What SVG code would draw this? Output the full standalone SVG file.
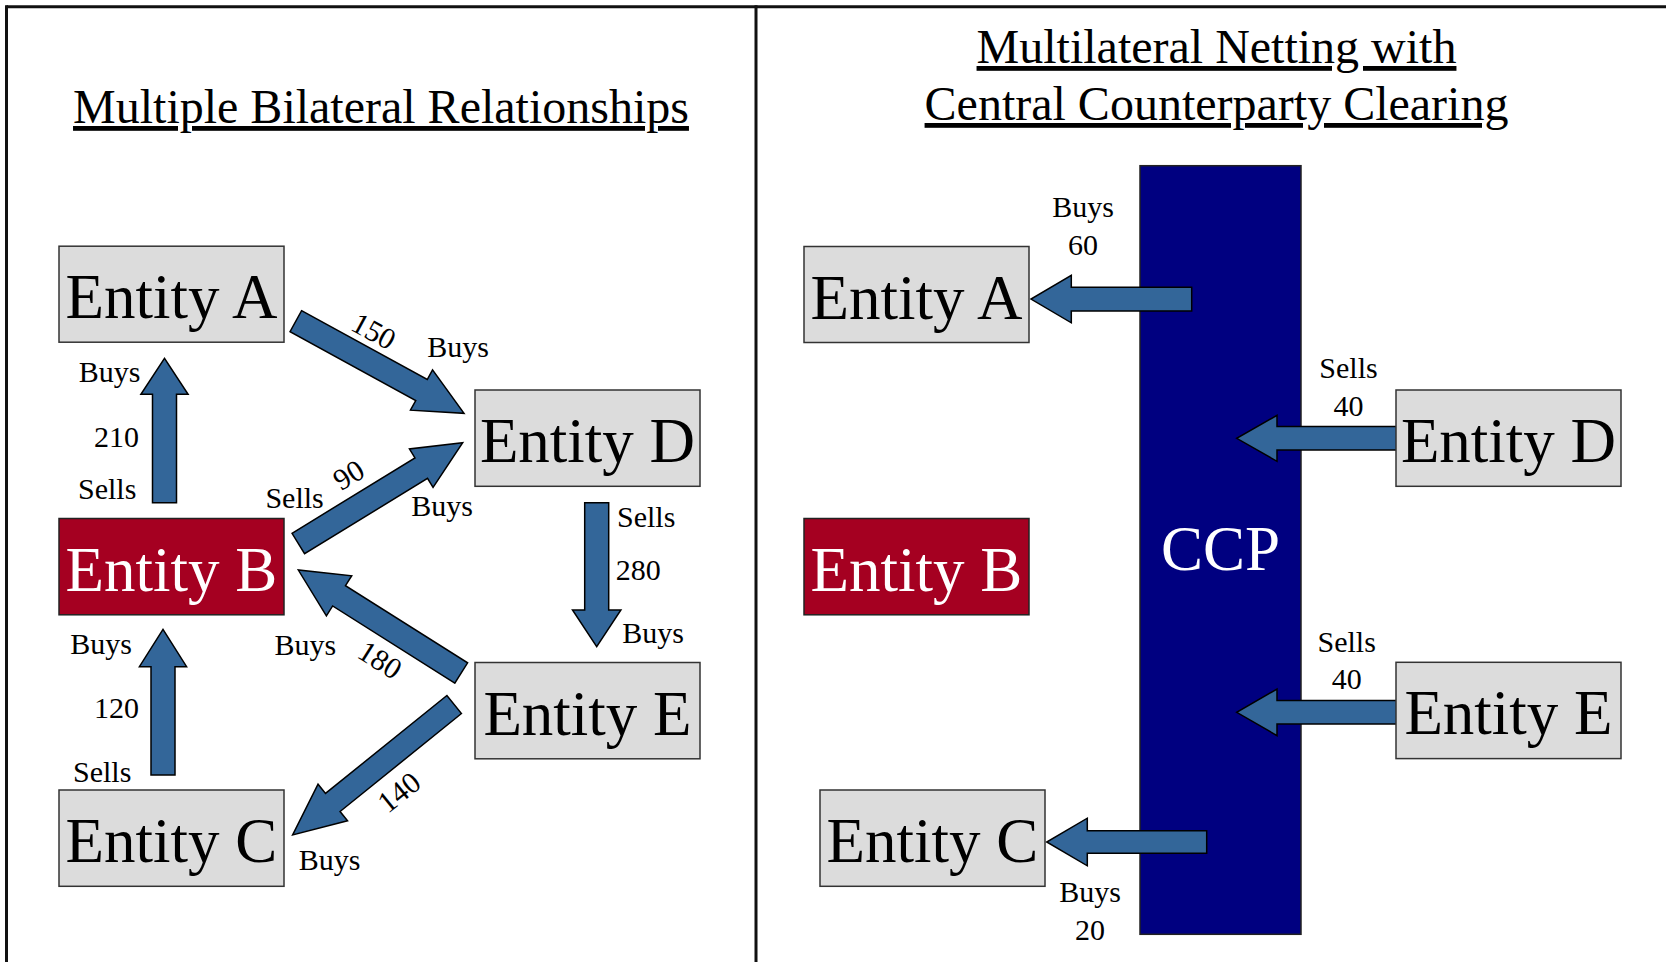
<svg xmlns="http://www.w3.org/2000/svg" width="1666" height="962" viewBox="0 0 1666 962">
<style>
.frame{fill:none;stroke:#111;stroke-width:3}
.box{fill:#dcdcdc;stroke:#333;stroke-width:1.5}
.boxb{fill:#a50021;stroke:#222;stroke-width:1.5}
.ccp{fill:#000080;stroke:#222;stroke-width:1.5}
.arr{fill:#336699;stroke:#000;stroke-width:1.5;stroke-linejoin:miter}
text{font-family:"Liberation Serif","Times New Roman",serif}
.title{font-size:48px;fill:#000;text-anchor:middle;text-decoration:underline}
.ent{font-size:63px;fill:#000;text-anchor:middle}
.entw{font-size:63px;fill:#fff;text-anchor:middle}
.lbl{font-size:30px;fill:#000}
.lblc{font-size:30px;fill:#000;text-anchor:middle}
</style>
<rect width="1666" height="962" fill="#fff"/>
<g id="frame">
<line class="frame" x1="6.5" y1="6.7" x2="1666" y2="6.7"/>
<line class="frame" x1="6.5" y1="5.2" x2="6.5" y2="962"/>
<line class="frame" x1="756" y1="5.2" x2="756" y2="962"/>
</g>
<g id="titles">
<text class="title" x="381" y="123">Multiple Bilateral Relationships</text>
<text class="title" x="1216.5" y="63">Multilateral Netting with</text>
<text class="title" x="1216.5" y="120">Central Counterparty Clearing</text>
</g>
<g id="ccp">
<rect class="ccp" x="1140" y="165.7" width="161" height="768.6"/>
<text class="entw" x="1220.5" y="570">CCP</text>
</g>
<g id="connectors">
<!-- left: B -> A (210) -->
<path class="arr" transform="translate(164.5,502.7) rotate(-90)" d="M0,-12 L108.4,-12 L108.4,-23.6 L144.4,0 L108.4,23.6 L108.4,12 L0,12 Z"/>
<!-- C -> B (120) -->
<path class="arr" transform="translate(163,775) rotate(-90)" d="M0,-12 L108.3,-12 L108.3,-23.6 L145.7,0 L108.3,23.6 L108.3,12 L0,12 Z"/>
<!-- D -> E (280) -->
<path class="arr" transform="translate(596.7,502.7) rotate(90)" d="M0,-12 L107.3,-12 L107.3,-24.2 L144,0 L107.3,24.2 L107.3,12 L0,12 Z"/>
<!-- A -> D (150) -->
<path class="arr" transform="translate(295.8,321.2) rotate(28.7)" d="M0,-12 L143.3,-12 L143.3,-23 L191.8,0 L143.3,23 L143.3,12 L0,12 Z"/>
<!-- B -> D (90) -->
<path class="arr" transform="translate(298.3,543.5) rotate(-31.5)" d="M0,-12 L144.2,-12 L144.2,-22.6 L192.8,0 L144.2,22.6 L144.2,12 L0,12 Z"/>
<!-- E -> B (180) -->
<path class="arr" transform="translate(461.2,673) rotate(-147.7)" d="M0,-12 L144.5,-12 L144.5,-23.7 L192.7,0 L144.5,23.7 L144.5,12 L0,12 Z"/>
<!-- E -> C (140) -->
<path class="arr" transform="translate(454.2,704.5) rotate(141.1)" d="M0,-11.6 L156,-11.6 L156,-23.5 L207.6,0 L156,23.5 L156,11.6 L0,11.6 Z"/>
<!-- right: CCP -> A -->
<path class="arr" transform="translate(1191.7,299.1) rotate(180)" d="M0,-11.9 L120.4,-11.9 L120.4,-23.7 L160.7,0 L120.4,23.7 L120.4,11.9 L0,11.9 Z"/>
<!-- D -> CCP -->
<path class="arr" transform="translate(1396.7,438.3) rotate(180)" d="M0,-11.7 L119.7,-11.7 L119.7,-23 L160,0 L119.7,23 L119.7,11.7 L0,11.7 Z"/>
<!-- E -> CCP -->
<path class="arr" transform="translate(1396.7,712.3) rotate(180)" d="M0,-11.7 L119.7,-11.7 L119.7,-23.3 L160,0 L119.7,23.3 L119.7,11.7 L0,11.7 Z"/>
<!-- CCP -> C -->
<path class="arr" transform="translate(1206.7,842) rotate(180)" d="M0,-11.3 L119.4,-11.3 L119.4,-23.8 L160,0 L119.4,23.8 L119.4,11.3 L0,11.3 Z"/>
</g>
<g id="labels">
<text class="lbl" x="78.8" y="381.7">Buys</text>
<text class="lbl" x="94" y="446.7">210</text>
<text class="lbl" x="78" y="499.3">Sells</text>
<text class="lbl" x="427.2" y="356.7">Buys</text>
<text class="lbl" x="265.4" y="508.3">Sells</text>
<text class="lbl" x="411.2" y="515.5">Buys</text>
<text class="lbl" x="617" y="526.7">Sells</text>
<text class="lbl" x="615.7" y="580">280</text>
<text class="lbl" x="622.2" y="643.3">Buys</text>
<text class="lbl" x="70.2" y="654.3">Buys</text>
<text class="lbl" x="94" y="718.3">120</text>
<text class="lbl" x="73" y="781.7">Sells</text>
<text class="lbl" x="274.5" y="655">Buys</text>
<text class="lbl" x="298.8" y="870">Buys</text>
<text class="lblc" transform="translate(369,340) rotate(28.7)">150</text>
<text class="lblc" transform="translate(353.9,483.5) rotate(-31.5)">90</text>
<text class="lblc" transform="translate(374.7,668.5) rotate(32.3)">180</text>
<text class="lblc" transform="translate(405.3,800.1) rotate(-38.9)">140</text>
<text class="lblc" x="1083" y="216.7">Buys</text>
<text class="lblc" x="1083" y="255">60</text>
<text class="lblc" x="1348.5" y="378.3">Sells</text>
<text class="lblc" x="1348.5" y="416">40</text>
<text class="lblc" x="1346.7" y="651.7">Sells</text>
<text class="lblc" x="1346.7" y="689.3">40</text>
<text class="lblc" x="1090" y="901.7">Buys</text>
<text class="lblc" x="1090" y="940">20</text>
</g>
<g id="entityA-left"><rect class="box" x="59" y="246.2" width="225" height="96"/><text class="ent" x="171.5" y="318.2">Entity A</text></g>
<g id="entityB-left"><rect class="boxb" x="59" y="518.5" width="225" height="96.3"/><text class="entw" x="171.5" y="590.5">Entity B</text></g>
<g id="entityC-left"><rect class="box" x="59" y="790" width="225" height="96.3"/><text class="ent" x="171.5" y="862">Entity C</text></g>
<g id="entityD-left"><rect class="box" x="475" y="390" width="225" height="96.3"/><text class="ent" x="587.5" y="462">Entity D</text></g>
<g id="entityE-left"><rect class="box" x="475" y="662.5" width="225" height="96.3"/><text class="ent" x="587.5" y="734.5">Entity E</text></g>
<g id="entityA-right"><rect class="box" x="804" y="246.5" width="225" height="96"/><text class="ent" x="916.5" y="318.5">Entity A</text></g>
<g id="entityB-right"><rect class="boxb" x="804" y="518.5" width="225" height="96.3"/><text class="entw" x="916.5" y="590.5">Entity B</text></g>
<g id="entityC-right"><rect class="box" x="820" y="790" width="225" height="96.3"/><text class="ent" x="932.5" y="862">Entity C</text></g>
<g id="entityD-right"><rect class="box" x="1396" y="390" width="225" height="96.3"/><text class="ent" x="1508.5" y="462">Entity D</text></g>
<g id="entityE-right"><rect class="box" x="1396" y="662.3" width="225" height="96.3"/><text class="ent" x="1508.5" y="734.3">Entity E</text></g>
</svg>
